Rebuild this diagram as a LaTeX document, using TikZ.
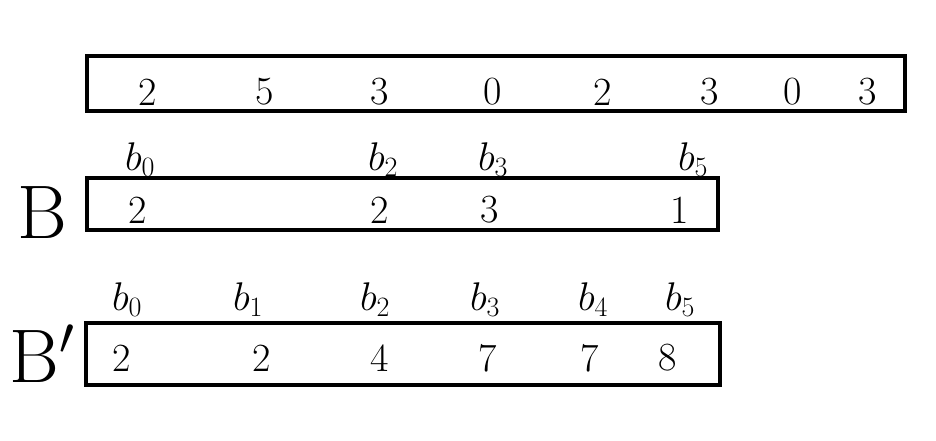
\documentclass[tikz,border=0pt]{standalone}
\usepackage{fix-cm}
\usepackage{amsmath}
\usetikzlibrary{positioning}
\tikzstyle{cellbox} = [rectangle, draw=black, line width=4pt, inner sep=0pt]
\tikzstyle{digit} = [font=\fontsize{40}{40}\selectfont, inner sep=0pt]
\tikzstyle{idx} = [font=\fontsize{40}{40}\selectfont, inner sep=0pt]
\tikzstyle{arrlabel} = [font=\fontsize{76}{76}\selectfont, inner sep=0pt]

\begin{document}
\begin{tikzpicture}[x=1pt, y=-1pt]

		% canvas
		\useasboundingbox (0,0) rectangle (936,440);

		% Input array
		\node[cellbox, minimum width=818pt, minimum height=55pt] (arr) at (496, 83.5) {};
		\foreach \x/\v [count=\i] in {148/2, 265/5, 380/3, 493/0, 603/2, 710/3, 793/0, 868/3}
			\node[digit] (a\i) at (\x, 92) {\v};

		% Array B
		\node[arrlabel] (labB) at (42, 213) {B};
		\node[cellbox, minimum width=631pt, minimum height=52pt] (boxB) at (402.5, 204) {};
		\foreach \x/\v [count=\i] in {138/2, 380/2, 490/3, 680/1}
			\node[digit] (b\i) at (\x, 210) {\v};
		\foreach \x/\k in {140/0, 383/2, 493/3, 693/5}
			\node[idx] (lb\k) at (\x, 160) {$b_\k$};

		% Array B'
		\node[arrlabel] (labBp) at (42, 354) {$\mathrm{B}'$};
		\node[cellbox, minimum width=634pt, minimum height=62pt] (boxBp) at (403, 354) {};
		\foreach \x/\v [count=\i] in {122/2, 262/2, 380/4, 488/7, 590/7, 668/8}
			\node[digit] (c\i) at (\x, 358) {\v};
		\foreach \x/\k in {127/0, 248/1, 375/2, 485/3, 593/4, 680/5}
			\node[idx] (lc\k) at (\x, 300) {$b_\k$};

	\end{tikzpicture}
\end{document}
